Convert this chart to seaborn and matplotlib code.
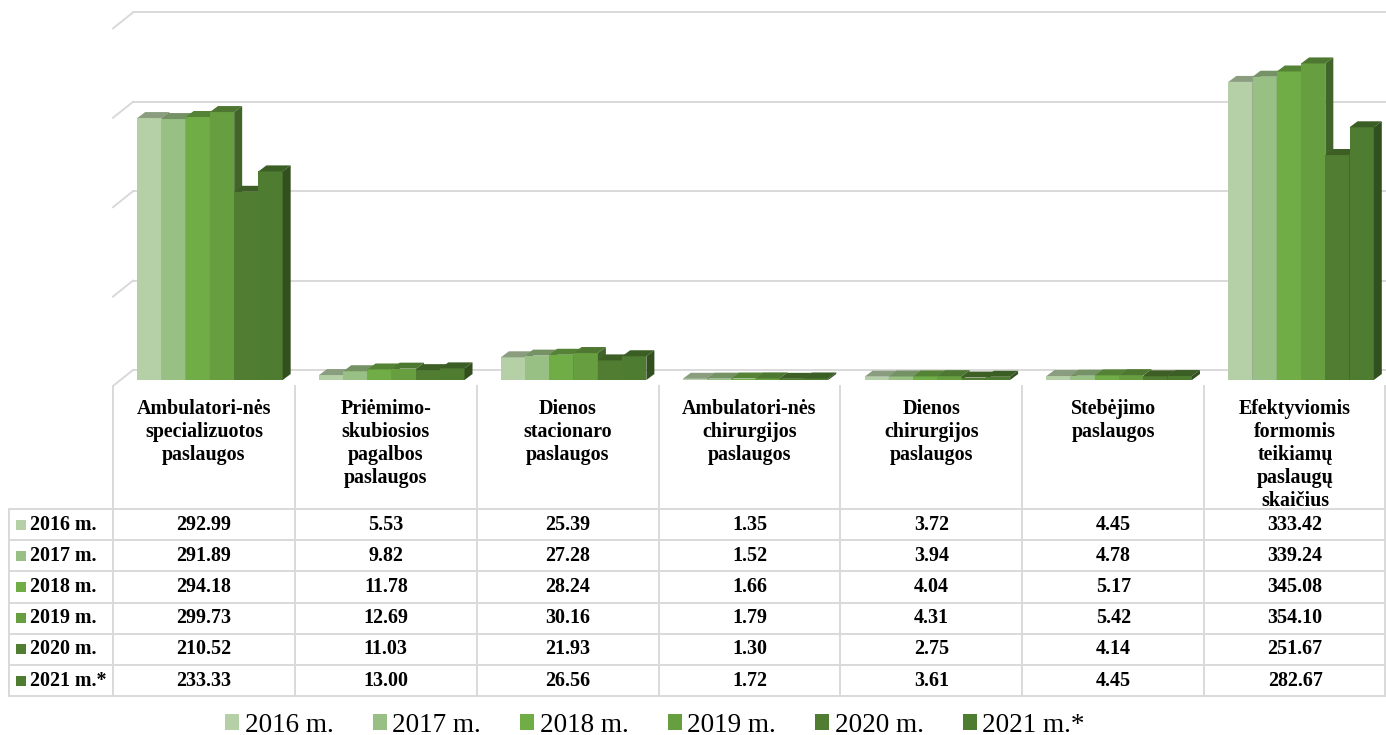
import numpy as np
import pandas as pd
import seaborn as sns
import matplotlib.pyplot as plt
from matplotlib.patches import Polygon, Rectangle
from matplotlib.lines import Line2D
from matplotlib.colors import to_rgb

categories = ["Ambulatori-nės\nspecializuotos\npaslaugos",
              "Priėmimo-\nskubiosios\npagalbos\npaslaugos",
              "Dienos\nstacionaro\npaslaugos",
              "Ambulatori-nės\nchirurgijos\npaslaugos",
              "Dienos\nchirurgijos\npaslaugos",
              "Stebėjimo\npaslaugos",
              "Efektyviomis\nformomis\nteikiamų\npaslaugų\nskaičius"]
years = ["2016 m.", "2017 m.", "2018 m.", "2019 m.", "2020 m.", "2021 m.*"]
v2016 = [292.99, 5.53, 25.39, 1.35, 3.72, 4.45, 333.42]
v2017 = [291.89, 9.82, 27.28, 1.52, 3.94, 4.78, 339.24]
v2018 = [294.18, 11.78, 28.24, 1.66, 4.04, 5.17, 345.08]
v2019 = [299.73, 12.69, 30.16, 1.79, 4.31, 5.42, 354.10]
v2020 = [210.52, 11.03, 21.93, 1.30, 2.75, 4.14, 251.67]
v2021 = [233.33, 13.00, 26.56, 1.72, 3.61, 4.45, 282.67]
series = [v2016, v2017, v2018, v2019, v2020, v2021]
colors = ["#b5d0a7", "#98c084", "#70ad47", "#669e40", "#507d32", "#4e7c31"]

rows = []
for y, vals in zip(years, series):
    for c, v in zip(categories, vals):
        rows.append({"cat": c, "year": y, "val": v})
df = pd.DataFrame(rows)

W, H = 1386, 735
plt.rcParams['font.family'] = ['Liberation Serif', 'DejaVu Serif']
fig = plt.figure(figsize=(W / 100, H / 100), dpi=100)

def fx(x):
    return x / W

def fy(y):
    return 1 - y / H

# bar plane: baseline at y=380 px, 400 units -> 357.6 px
left, right, base, ppu = 113, 1386, 380, 357.6 / 400
colw = (right - left) / 7
ax = fig.add_axes([fx(left), fy(base), fx(right - left), 357.6 / H])
sns.barplot(data=df, x="cat", y="val", hue="year", palette=colors, width=0.8,
            saturation=1, edgecolor="none", ax=ax, legend=True)
shift = 6 / colw
ax.set_xlim(-0.5 - shift, 6.5 - shift)
ax.set_ylim(0, 400)
ax.axis("off")
handles, labels = ax.get_legend_handles_labels()
ax.get_legend().remove()

# back wall gridlines
gx = 20 / (right - left)
for v in [0, 100, 200, 300, 400]:
    t = ax.get_yaxis_transform()
    ax.plot([0, gx], [v - 6 / ppu, v + 10 / ppu], transform=t, color="#d9d9d9",
            lw=1.4, clip_on=False, zorder=1)
    ax.plot([gx, 1], [v + 10 / ppu, v + 10 / ppu], transform=t, color="#d9d9d9",
            lw=1.4, clip_on=False, zorder=1)

# fake 3D depth on bars
ddx, ddy = 8 / colw, 6 / ppu
bars = []
for i, cont in enumerate(ax.containers):
    for p in cont.patches:
        bars.append((p.get_x(), p, colors[i]))
bars.sort(key=lambda b: b[0])
for k, (x0, p, col) in enumerate(bars):
    z = 3 + 2 * k
    p.set_zorder(z)
    x1 = x0 + p.get_width()
    h = p.get_height()
    rgb = np.array(to_rgb(col))
    top = Polygon([(x0, h), (x1, h), (x1 + ddx, h + ddy), (x0 + ddx, h + ddy)],
                  closed=True, facecolor=rgb * 0.76, edgecolor="none", zorder=z + 1, clip_on=False)
    side = Polygon([(x1, 0), (x1 + ddx, ddy), (x1 + ddx, h + ddy), (x1, h)],
                   closed=True, facecolor=rgb * 0.64, edgecolor="none", zorder=z + 1, clip_on=False)
    ax.add_patch(top)
    ax.add_patch(side)

# data table below
gray = "#d9d9d9"
row_top = 509
rowh = 31.2
nrow = len(years)
bottom = row_top + rowh * nrow

def fline(x0, y0, x1, y1):
    fig.add_artist(Line2D([fx(x0), fx(x1)], [fy(y0), fy(y1)], color=gray, lw=1.4,
                          transform=fig.transFigure))

for k in range(8):
    xk = left + k * colw if k < 7 else right - 1
    fline(xk, 386, xk, bottom)
fline(9, row_top, 9, bottom)
for r in range(nrow + 1):
    fline(9, row_top + r * rowh, right - 1, row_top + r * rowh)

for j, c in enumerate(categories):
    fig.text(fx(left + (j + 0.5) * colw), fy(399), c, ha="center", va="top",
             fontsize=14.4, fontweight="bold", linespacing=1.2)

for r, (y, vals) in enumerate(zip(years, series)):
    yc = row_top + (r + 0.5) * rowh
    fig.add_artist(Rectangle((fx(16), fy(yc + 5)), 10 / W, 10 / H, facecolor=colors[r],
                             edgecolor="none", transform=fig.transFigure))
    fig.text(fx(30), fy(yc), y, ha="left", va="center", fontsize=14.4, fontweight="bold")
    for j, v in enumerate(vals):
        fig.text(fx(left + (j + 0.5) * colw), fy(yc), f"{v:.2f}", ha="center", va="center",
                 fontsize=14.4, fontweight="bold")

fig.legend(handles, labels, loc="center", bbox_to_anchor=(fx(655), fy(725)), ncol=6,
           frameon=False, fontsize=19.5, handlelength=0.52, handleheight=0.52,
           handletextpad=0.2, columnspacing=1.45, borderaxespad=0)

fig.savefig("out.png", dpi=100)
